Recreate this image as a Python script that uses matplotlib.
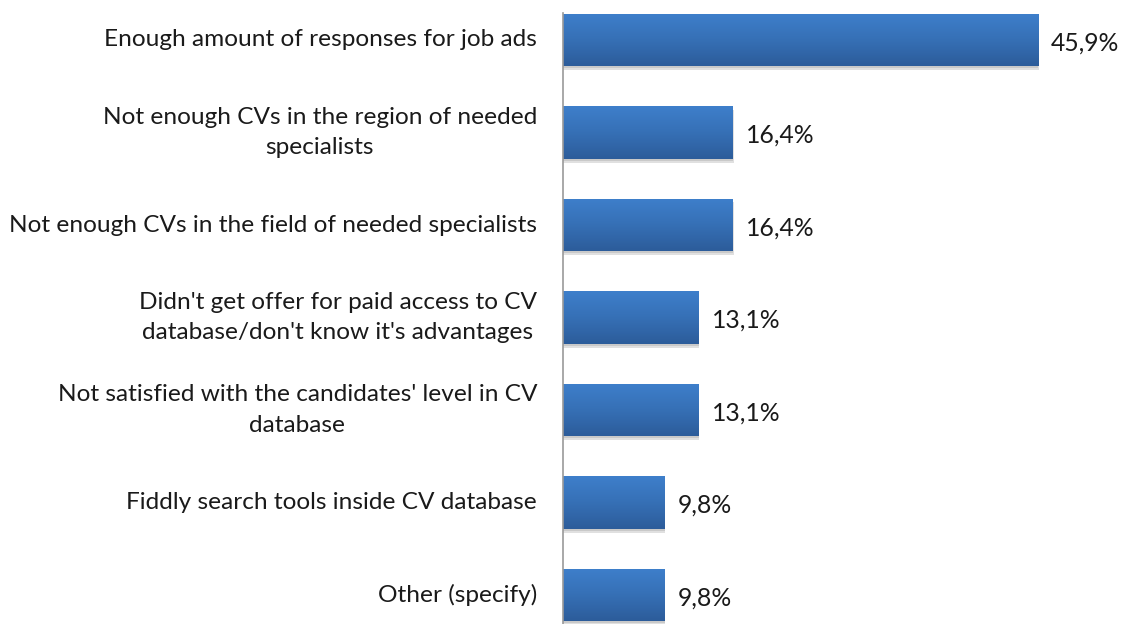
import matplotlib
matplotlib.use("Agg")
import matplotlib.pyplot as plt
import numpy as np
from matplotlib.colors import LinearSegmentedColormap
from matplotlib.patches import Rectangle

categories = [
    "Enough amount of responses for job ads",
    "Not enough CVs in the region of needed\nspecialists",
    "Not enough CVs in the field of needed specialists",
    "Didn't get offer for paid access to CV\ndatabase/don't know it's advantages",
    "Not satisfied with the candidates' level in CV\ndatabase",
    "Fiddly search tools inside CV database",
    "Other (specify)",
]
values = [45.9, 16.4, 16.4, 13.1, 13.1, 9.8, 9.8]
value_labels = ["45,9%", "16,4%", "16,4%", "13,1%", "13,1%", "9,8%", "9,8%"]

plt.rcParams['font.family'] = ['Lato', 'DejaVu Sans']

W, H = 1131, 624
fig = plt.figure(figsize=(W / 100, H / 100), dpi=100)
ax_left, ax_right = 563, 1131
ax_top, ax_bot = 13, 624
ax = fig.add_axes([ax_left / W, 1 - ax_bot / H, (ax_right - ax_left) / W, (ax_bot - ax_top) / H])

px_per_unit = 10.35
pitch = 92.5
y0 = 40

for s in ["top", "right", "bottom"]:
    ax.spines[s].set_visible(False)
ax.spines["left"].set_color("#9a9a9a")
ax.spines["left"].set_linewidth(1.2)
ax.set_xticks([])
ax.set_yticks([])

cmap = LinearSegmentedColormap.from_list("g", ["#3e7fcb", "#3670b6", "#2c5c9a"])
grad = np.linspace(0, 1, 256).reshape(-1, 1)
hgt = 0.57
ypos = np.arange(len(values))
bars = ax.barh(ypos, values, height=hgt, color="none", edgecolor="none")
for i, (b, v) in enumerate(zip(bars, values)):
    sh = Rectangle((0.0, i - hgt / 2 + 0.04), v + 0.08, hgt, facecolor="#000000", alpha=0.12,
                   edgecolor="none", zorder=1)
    ax.add_patch(sh)
    sh2 = Rectangle((0.0, i - hgt / 2 + 0.02), v + 0.04, hgt, facecolor="#000000", alpha=0.1,
                    edgecolor="none", zorder=1)
    ax.add_patch(sh2)
    im = ax.imshow(grad, extent=(0, v, i + hgt / 2, i - hgt / 2), cmap=cmap, aspect="auto",
                   zorder=2, origin="upper")
    clip = Rectangle((0, i - hgt / 2), v, hgt, transform=ax.transData, facecolor="none")
    ax.add_patch(clip)
    im.set_clip_path(clip)
    ax.text(v + 13 / px_per_unit, i + 0.03, value_labels[i], va="center", ha="left", fontsize=17.8,
            color="#1a1a1a")
ax.set_xlim(0, (ax_right - ax_left) / px_per_unit)
ax.set_ylim((ax_bot - y0) / pitch, (ax_top - y0) / pitch)

for i, c in enumerate(categories):
    ax.text(-26 / px_per_unit, i, c, ha="right", va="center", multialignment="center",
            fontsize=17.6, color="#1a1a1a", linespacing=1.58)

fig.savefig("out.png", dpi=100)
